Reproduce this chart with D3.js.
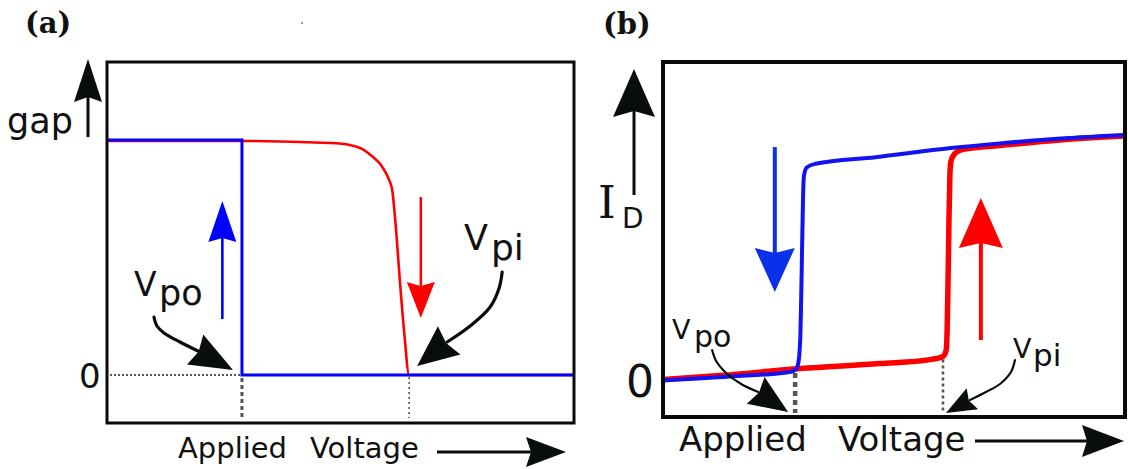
<!DOCTYPE html>
<html>
<head>
<meta charset="utf-8">
<script src="https://cdn.jsdelivr.net/npm/d3@7"></script>
<style>
  html, body { margin: 0; padding: 0; background: #fff; }
  svg { display: block; }
</style>
</head>
<body>
<svg id="fig" width="1128" height="469"></svg>
<script>
// ---------- data (arbitrary units: voltage 0..10, normalised gap / current) ----------

// (a) gap on the pull-in sweep (increasing voltage)
const gapSweepUpV   = [0, 2.89, 4.78, 5.20, 5.46, 5.67, 5.85, 5.97, 6.06, 6.10, 6.19, 6.27, 6.36, 6.47, 10];
const gapSweepUpGap = [0.996, 0.996, 0.987, 0.979, 0.962, 0.932, 0.898, 0.860, 0.821, 0.796, 0.617, 0.404, 0.191, 0, 0];
// (a) gap on the release sweep (decreasing voltage)
const gapSweepDownV   = [0, 2.89, 2.89, 10];
const gapSweepDownGap = [1, 1, 0, 0];

// (b) drain current on the pull-in sweep
const idSweepUpV = [0, 1.23, 2.97, 4.70, 5.78, 6.06, 6.13, 6.15, 6.17, 6.19, 6.21, 6.23, 6.28, 6.36, 6.54, 7.29, 8.59, 10];
const idSweepUpI = [0.010, 0.026, 0.055, 0.075, 0.091, 0.104, 0.130, 0.211, 0.415, 0.659, 0.841, 0.894, 0.919, 0.935, 0.947, 0.961, 0.984, 1.0];
// (b) drain current on the release sweep
const idSweepDownV = [0, 1.45, 2.75, 2.86, 2.92, 2.97, 2.99, 3.01, 3.03, 3.05, 3.11, 3.30, 4.60, 6.23, 7.29, 8.81, 10];
const idSweepDownI = [0.006, 0.022, 0.041, 0.049, 0.069, 0.171, 0.333, 0.537, 0.740, 0.837, 0.872, 0.887, 0.914, 0.951, 0.970, 0.992, 1.004];

// threshold voltages
const thresholdNames = ["po", "pi"];
const thresholdA = [2.89, 6.47];     // panel (a)
const thresholdB = [2.86, 6.06];     // panel (b)
const thresholdBLevel = [0.049, 0.104];

// sweep-direction arrows: [voltage, from, to]
const sweepArrowsA = [[2.47, 0.238, 0.740], [6.72, 0.757, 0.243]];
const sweepArrowsB = [[2.42, 0.955, 0.366], [6.88, 0.171, 0.748]];

const panelTags = ["(a)", "(b)"];
const xTitleWords = ["Applied", "Voltage"];
const yTitleA = "gap";
const yTitleB = ["I", "D"];
const zeroTick = "0";

// ---------- drawing ----------
const svg = d3.select("#fig");
const RED = "#ff0000", BLUE = "#0000ff", BLUE_B = "#1212f2", INK = "#0a0e0a", DOT = "#555";

function head(tip, from, L, W, notch) {
  const dx = tip[0] - from[0], dy = tip[1] - from[1];
  const d = Math.hypot(dx, dy), ux = dx / d, uy = dy / d, px = -uy, py = ux;
  const bx = tip[0] - ux * L, by = tip[1] - uy * L;
  const nx = tip[0] - ux * (L - notch), ny = tip[1] - uy * (L - notch);
  return `M${tip[0]},${tip[1]}L${bx + px * W},${by + py * W}L${nx},${ny}L${bx - px * W},${by - py * W}Z`;
}

function straightArrow(g, from, tip, L, W, notch, color, sw) {
  const dx = tip[0] - from[0], dy = tip[1] - from[1];
  const d = Math.hypot(dx, dy), ux = dx / d, uy = dy / d;
  g.append("line")
    .attr("x1", from[0]).attr("y1", from[1])
    .attr("x2", tip[0] - ux * (L - notch - 1)).attr("y2", tip[1] - uy * (L - notch - 1))
    .attr("stroke", color).attr("stroke-width", sw);
  g.append("path").attr("d", head(tip, from, L, W, notch)).attr("fill", color);
}

function curvedArrow(g, pts, tip, L, W, notch, sw) {
  const base = pts[pts.length - 1];
  g.append("path")
    .attr("d", d3.line().curve(d3.curveCatmullRom.alpha(0.5))(pts))
    .attr("fill", "none").attr("stroke", INK).attr("stroke-width", sw)
    .attr("stroke-linecap", "round");
  const dx = tip[0] - base[0], dy = tip[1] - base[1];
  const d = Math.hypot(dx, dy);
  const from = [tip[0] - dx / d * 10, tip[1] - dy / d * 10];
  g.append("path").attr("d", head(tip, from, L, W, notch)).attr("fill", INK);
}

function subLabel(g, x, y, main, sub, fs, fsSub, subX, dy) {
  const t = g.append("text").attr("font-family", "DejaVu Sans").attr("fill", "#111");
  t.append("tspan").attr("x", x).attr("y", y).attr("font-size", fs).text(main);
  t.append("tspan").attr("x", subX).attr("y", y + dy).attr("font-size", fsSub).text(sub);
}

// ======================= panel (a) =======================
const frameA = { x0: 107, x1: 574, y0: 62, y1: 423 };
const xA = d3.scaleLinear().domain([0, 10]).range([frameA.x0, frameA.x1]);
const yA = d3.scaleLinear().domain([0, 1]).range([375, 140]);
const gA = svg.append("g");

gA.append("text").attr("x", 25).attr("y", 33)
  .attr("font-family", "DejaVu Serif").attr("font-weight", "bold").attr("font-size", 29)
  .attr("fill", "#111").text(panelTags[0]);
gA.append("circle").attr("cx", 302).attr("cy", 23).attr("r", 0.9).attr("fill", "#666");

// guide lines at the threshold voltages
gA.append("line").attr("x1", frameA.x0 + 3).attr("x2", xA(thresholdA[0]))
  .attr("y1", yA(0)).attr("y2", yA(0))
  .attr("stroke", "#222").attr("stroke-width", 1.4).attr("stroke-dasharray", "2,2");
gA.append("line").attr("x1", xA(thresholdA[0])).attr("x2", xA(thresholdA[0]))
  .attr("y1", yA(0) + 3).attr("y2", frameA.y1 - 5)
  .attr("stroke", DOT).attr("stroke-width", 3).attr("stroke-dasharray", "4,3");
gA.append("line").attr("x1", xA(thresholdA[1])).attr("x2", xA(thresholdA[1]))
  .attr("y1", yA(0) + 2).attr("y2", frameA.y1 - 5)
  .attr("stroke", DOT).attr("stroke-width", 1.6).attr("stroke-dasharray", "2,3");

const lineA = d3.line().x(d => xA(d[0])).y(d => yA(d[1]));
gA.append("path")
  .datum(d3.zip(gapSweepUpV, gapSweepUpGap))
  .attr("d", lineA.curve(d3.curveMonotoneX))
  .attr("fill", "none").attr("stroke", RED).attr("stroke-width", 2.6);
gA.append("path")
  .datum(d3.zip(gapSweepDownV, gapSweepDownGap))
  .attr("d", d3.line().x(d => xA(d[0])).y(d => yA(d[1])))
  .attr("fill", "none").attr("stroke", BLUE).attr("stroke-width", 3);

// sweep direction arrows
sweepArrowsA.forEach((a, i) => {
  straightArrow(gA, [xA(a[0]), yA(a[1])], [xA(a[0]), yA(a[2])], i ? 36 : 41, 14, 4, i ? RED : BLUE, 2.6);
});

gA.append("rect")
  .attr("x", frameA.x0).attr("y", frameA.y0)
  .attr("width", frameA.x1 - frameA.x0).attr("height", frameA.y1 - frameA.y0)
  .attr("fill", "none").attr("stroke", "#0a0a0a").attr("stroke-width", 3);

// callouts
const poA = [xA(thresholdA[0]), yA(0)], piA = [xA(thresholdA[1]), yA(0)];
curvedArrow(gA,
  [[poA[0] - 88, poA[1] - 58], [poA[0] - 85, poA[1] - 49], [poA[0] - 78, poA[1] - 42], [poA[0] - 62, poA[1] - 33], [poA[0] - 44, poA[1] - 24]],
  [poA[0] - 9, poA[1] - 5], 43, 17, 4, 3.2);
curvedArrow(gA,
  [[piA[0] + 93, piA[1] - 103], [piA[0] + 90, piA[1] - 87], [piA[0] + 81, piA[1] - 68], [piA[0] + 61, piA[1] - 49], [piA[0] + 38, piA[1] - 33]],
  [piA[0] + 8, piA[1] - 9], 41, 18, 4, 3.2);
subLabel(gA, 134, 296, "V", thresholdNames[0], 33, 35, 159, 9);
subLabel(gA, 464, 250, "V", thresholdNames[1], 35, 36, 491, 10);

// axis titles and arrows
gA.append("text").attr("x", 7).attr("y", 133).attr("font-family", "DejaVu Sans")
  .attr("font-size", 35).attr("fill", "#111").text(yTitleA);
straightArrow(gA, [88, 137], [88, 59], 43, 14, 5, INK, 3);
gA.append("text").attr("x", 79).attr("y", 388).attr("font-family", "DejaVu Sans")
  .attr("font-size", 34).attr("fill", "#111").text(zeroTick);
const xtA = gA.append("text").attr("font-family", "DejaVu Sans").attr("font-size", 29).attr("fill", "#111");
xtA.append("tspan").attr("x", 178).attr("y", 458).text(xTitleWords[0]);
xtA.append("tspan").attr("x", 310).attr("y", 458).text(xTitleWords[1]);
straightArrow(gA, [437, 452], [566, 452], 40, 15, 5, INK, 3);

// ======================= panel (b) =======================
const frameB = { x0: 663, x1: 1125, y0: 62, y1: 417 };
const xB = d3.scaleLinear().domain([0, 10]).range([frameB.x0, frameB.x1]);
const yB = d3.scaleLinear().domain([0, 1]).range([382, 136]);
const gB = svg.append("g");

gB.append("text").attr("x", 603).attr("y", 34)
  .attr("font-family", "DejaVu Serif").attr("font-weight", "bold").attr("font-size", 29)
  .attr("fill", "#111").text(panelTags[1]);

// guide lines
gB.append("line").attr("x1", xB(thresholdB[0])).attr("x2", xB(thresholdB[0]))
  .attr("y1", yB(thresholdBLevel[0]) + 3).attr("y2", frameB.y1 - 4)
  .attr("stroke", DOT).attr("stroke-width", 4.5).attr("stroke-dasharray", "5,4");
gB.append("line").attr("x1", xB(thresholdB[1])).attr("x2", xB(thresholdB[1]))
  .attr("y1", yB(thresholdBLevel[1]) + 3).attr("y2", frameB.y1 - 4)
  .attr("stroke", DOT).attr("stroke-width", 2.6).attr("stroke-dasharray", "3,3");

const lineB = d3.line().x(d => xB(d[0])).y(d => yB(d[1])).curve(d3.curveMonotoneX);
gB.append("path")
  .datum(d3.zip(idSweepUpV, idSweepUpI))
  .attr("d", lineB)
  .attr("fill", "none").attr("stroke", RED).attr("stroke-width", 5.5);
gB.append("path")
  .datum(d3.zip(idSweepDownV, idSweepDownI))
  .attr("d", lineB)
  .attr("fill", "none").attr("stroke", BLUE_B).attr("stroke-width", 4);

sweepArrowsB.forEach((a, i) => {
  straightArrow(gB, [xB(a[0]), yB(a[1])], [xB(a[0]), yB(a[2])], i ? 50 : 44, i ? 22 : 20, 5, i ? RED : "#0b30ea", 4);
});

gB.append("rect")
  .attr("x", frameB.x0).attr("y", frameB.y0)
  .attr("width", frameB.x1 - frameB.x0).attr("height", frameB.y1 - frameB.y0)
  .attr("fill", "none").attr("stroke", "#0a0a0a").attr("stroke-width", 4);

const poB = [xB(thresholdB[0]), frameB.y1], piB = [xB(thresholdB[1]), frameB.y1];
curvedArrow(gB,
  [[poB[0] - 83, poB[1] - 67], [poB[0] - 79, poB[1] - 56], [poB[0] - 69, poB[1] - 44], [poB[0] - 54, poB[1] - 33], [poB[0] - 37, poB[1] - 25]],
  [poB[0] - 7, poB[1] - 5], 39, 16, 4, 2.2);
curvedArrow(gB,
  [[piB[0] + 72, piB[1] - 57], [piB[0] + 68, piB[1] - 45], [piB[0] + 57, piB[1] - 33], [piB[0] + 43, piB[1] - 25], [piB[0] + 27, piB[1] - 17]],
  [piB[0] + 3, piB[1] - 4], 30, 12, 4, 2.2);
subLabel(gB, 672, 339, "V", thresholdNames[0], 27, 30, 694, 8);
subLabel(gB, 1013, 358, "V", thresholdNames[1], 27, 31, 1033, 8);

// axis titles and arrows
const ytB = gB.append("text").attr("fill", "#111");
ytB.append("tspan").attr("x", 598).attr("y", 218).attr("font-family", "DejaVu Serif").attr("font-size", 45).text(yTitleB[0]);
ytB.append("tspan").attr("x", 622).attr("y", 228).attr("font-family", "DejaVu Sans").attr("font-size", 28).text(yTitleB[1]);
straightArrow(gB, [634, 195], [634, 69], 48, 21, 6, INK, 3);
gB.append("text").attr("x", 626).attr("y", 397).attr("font-family", "DejaVu Sans")
  .attr("font-size", 44).attr("fill", "#111").text(zeroTick);
const xtB = gB.append("text").attr("font-family", "DejaVu Sans").attr("font-size", 34).attr("fill", "#111");
xtB.append("tspan").attr("x", 679).attr("y", 451).text(xTitleWords[0]);
xtB.append("tspan").attr("x", 838).attr("y", 451).text(xTitleWords[1]);
straightArrow(gB, [975, 441], [1124, 441], 42, 16, 5, INK, 3);
</script>
</body>
</html>
